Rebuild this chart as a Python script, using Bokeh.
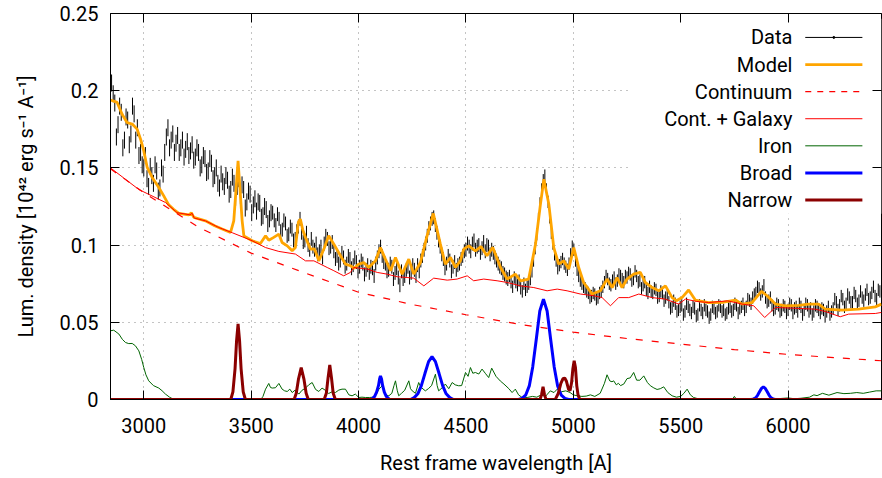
from bokeh.plotting import figure
from bokeh.models import Range1d, FixedTicker, LinearAxis
from bokeh.embed import file_html
from bokeh.resources import INLINE
from bokeh.core.properties import value

FONT = "Roboto"

# ---------------- data ----------------
X_TICKS = [3000, 3500, 4000, 4500, 5000, 5500, 6000]
Y_TICKS = [0, 0.05, 0.1, 0.15, 0.2, 0.25]
Y_TICK_LABELS = ["0", "0.05", "0.1", "0.15", "0.2", "0.25"]
X_TITLE = "Rest frame wavelength [A]"
Y_TITLE = "Lum. density [10\u2074\u00b2 erg s\u207b\u00b9 A\u207b\u00b9]"
LEGEND_LABELS = ["Data", "Model", "Continuum", "Cont. + Galaxy", "Iron", "Broad", "Narrow"]

# observed spectrum: value every 15 A from 2850 A (rows of 10 = 150 A)
DATA_WL_START = 2850
DATA_WL_STEP = 15
DATA_FLUX = [
    0.205, 0.192, 0.178, 0.186, 0.168, 0.181, 0.172, 0.185, 0.176, 0.160,
    0.150, 0.143, 0.151, 0.140, 0.148, 0.137, 0.146, 0.170, 0.163, 0.172,
    0.166, 0.160, 0.168, 0.162, 0.158, 0.165, 0.157, 0.160, 0.152, 0.156,
    0.148, 0.153, 0.145, 0.140, 0.146, 0.138, 0.142, 0.136, 0.140, 0.138,
    0.132, 0.136, 0.128, 0.133, 0.126, 0.122, 0.127, 0.119, 0.123, 0.117,
    0.121, 0.113, 0.117, 0.110, 0.114, 0.107, 0.110, 0.104, 0.112, 0.108,
    0.103, 0.100, 0.104, 0.097, 0.094, 0.099, 0.101, 0.104, 0.099, 0.096,
    0.093, 0.090, 0.092, 0.088, 0.091, 0.087, 0.089, 0.086, 0.088, 0.084,
    0.082, 0.085, 0.088, 0.096, 0.093, 0.088, 0.084, 0.086, 0.082, 0.079,
    0.083, 0.080, 0.086, 0.082, 0.084, 0.087, 0.090, 0.097, 0.106, 0.114,
    0.118, 0.108, 0.099, 0.091, 0.088, 0.090, 0.086, 0.084, 0.088, 0.093,
    0.097, 0.099, 0.101, 0.097, 0.100, 0.098, 0.096, 0.099, 0.097, 0.092,
    0.088, 0.085, 0.081, 0.078, 0.076, 0.079, 0.074, 0.072, 0.075, 0.073,
    0.078, 0.090, 0.107, 0.127, 0.142, 0.136, 0.118, 0.101, 0.090, 0.087,
    0.091, 0.086, 0.088, 0.099, 0.090, 0.080, 0.075, 0.072, 0.069, 0.067,
    0.068, 0.066, 0.070, 0.076, 0.078, 0.074, 0.079, 0.077, 0.080, 0.076,
    0.079, 0.081, 0.078, 0.080, 0.077, 0.074, 0.071, 0.073, 0.069, 0.071,
    0.067, 0.069, 0.066, 0.063, 0.060, 0.062, 0.058, 0.061, 0.057, 0.060,
    0.056, 0.059, 0.055, 0.058, 0.061, 0.057, 0.055, 0.059, 0.057, 0.060,
    0.058, 0.056, 0.060, 0.058, 0.061, 0.059, 0.062, 0.060, 0.064, 0.066,
    0.069, 0.072, 0.070, 0.066, 0.064, 0.061, 0.059, 0.061, 0.058, 0.060,
    0.058, 0.061, 0.059, 0.057, 0.060, 0.058, 0.061, 0.059, 0.057, 0.060,
    0.056, 0.058, 0.057, 0.055, 0.059, 0.063, 0.061, 0.065, 0.062, 0.066,
    0.063, 0.067, 0.064, 0.066, 0.068, 0.065, 0.069, 0.067, 0.071, 0.068,
]
# the in-between samples, every 15 A from 2857.5 A
DATA_MID_WL_START = 2857.5
DATA_FLUX_MID = [
    0.198, 0.170, 0.190, 0.163, 0.183, 0.165, 0.190, 0.168, 0.158, 0.152,
    0.158, 0.138, 0.145, 0.152, 0.135, 0.150, 0.160, 0.176, 0.168, 0.160,
    0.171, 0.163, 0.157, 0.167, 0.161, 0.155, 0.163, 0.150, 0.158, 0.147,
    0.156, 0.143, 0.150, 0.137, 0.141, 0.145, 0.133, 0.144, 0.131, 0.143,
    0.139, 0.124, 0.135, 0.121, 0.130, 0.128, 0.118, 0.125, 0.114, 0.121,
    0.116, 0.120, 0.109, 0.116, 0.106, 0.112, 0.103, 0.109, 0.117, 0.102,
    0.108, 0.097, 0.099, 0.101, 0.096, 0.092, 0.106, 0.098, 0.102, 0.091,
    0.088, 0.095, 0.086, 0.093, 0.085, 0.092, 0.083, 0.090, 0.081, 0.087,
    0.086, 0.080, 0.092, 0.099, 0.089, 0.083, 0.088, 0.078, 0.085, 0.074,
    0.078, 0.084, 0.079, 0.087, 0.080, 0.083, 0.093, 0.101, 0.111, 0.117,
    0.113, 0.103, 0.094, 0.085, 0.093, 0.083, 0.089, 0.087, 0.091, 0.096,
    0.101, 0.096, 0.103, 0.099, 0.095, 0.102, 0.100, 0.094, 0.095, 0.090,
    0.086, 0.082, 0.079, 0.080, 0.073, 0.076, 0.077, 0.070, 0.071, 0.075,
    0.083, 0.098, 0.117, 0.136, 0.145, 0.128, 0.108, 0.094, 0.085, 0.089,
    0.088, 0.084, 0.094, 0.097, 0.084, 0.077, 0.073, 0.070, 0.066, 0.069,
    0.065, 0.069, 0.073, 0.080, 0.075, 0.077, 0.075, 0.081, 0.078, 0.080,
    0.082, 0.077, 0.083, 0.076, 0.072, 0.076, 0.069, 0.070, 0.072, 0.066,
    0.070, 0.064, 0.068, 0.059, 0.064, 0.057, 0.060, 0.055, 0.062, 0.058,
    0.060, 0.054, 0.061, 0.056, 0.058, 0.053, 0.060, 0.056, 0.061, 0.057,
    0.055, 0.059, 0.057, 0.062, 0.056, 0.060, 0.058, 0.065, 0.062, 0.068,
    0.073, 0.068, 0.074, 0.063, 0.066, 0.058, 0.062, 0.057, 0.061, 0.056,
    0.062, 0.056, 0.060, 0.062, 0.055, 0.062, 0.057, 0.055, 0.061, 0.058,
    0.059, 0.054, 0.060, 0.057, 0.065, 0.058, 0.067, 0.060, 0.068, 0.063,
    0.069, 0.062, 0.070, 0.064, 0.071, 0.066, 0.073, 0.065, 0.070, 0.066,
]
# error bar half-size per wavelength band
ERR_EDGES = [3600, 4700]
ERR_VALUES = [0.0055, 0.0045, 0.004]

MODEL = [
    (2845, 0.194), (2876, 0.1924), (2899, 0.1848), (2922, 0.1794), (2946, 0.1784),
    (2969, 0.1751), (2985, 0.1686), (3000, 0.161), (3016, 0.1503), (3039, 0.1438),
    (3070, 0.1373), (3093, 0.1319), (3116, 0.1261), (3140, 0.123), (3163, 0.1205),
    (3209, 0.1196), (3222, 0.1208), (3233, 0.1179), (3287, 0.1157), (3330, 0.1125),
    (3365, 0.1104), (3404, 0.1082), (3419, 0.1157), (3439, 0.1546), (3458, 0.1157),
    (3466, 0.106), (3505, 0.1028), (3543, 0.101), (3567, 0.106), (3582, 0.1032),
    (3605, 0.105), (3629, 0.1071), (3644, 0.1017), (3668, 0.0995), (3691, 0.0963),
    (3706, 0.0985), (3720, 0.115), (3729, 0.1168), (3740, 0.110), (3753, 0.1049),
    (3776, 0.0974), (3795, 0.0975), (3815, 0.0898), (3840, 0.098), (3861, 0.106),
    (3885, 0.1006), (3916, 0.0931), (3939, 0.0877), (3962, 0.0866), (3980, 0.085),
    (4001, 0.0877), (4024, 0.0887), (4047, 0.0855), (4079, 0.0898), (4102, 0.0984),
    (4125, 0.0909), (4149, 0.0834), (4172, 0.092), (4203, 0.0812), (4234, 0.0909),
    (4257, 0.0812), (4288, 0.0887), (4319, 0.106), (4348, 0.1205), (4381, 0.1006),
    (4404, 0.0877), (4428, 0.092), (4451, 0.0855), (4474, 0.0898), (4490, 0.0974),
    (4513, 0.0995), (4544, 0.0963), (4570, 0.099), (4598, 0.0931), (4625, 0.0985),
    (4661, 0.0855), (4692, 0.078), (4730, 0.0812), (4754, 0.0769), (4792, 0.078),
    (4824, 0.1006), (4847, 0.1265), (4863, 0.1427), (4886, 0.1265), (4909, 0.0984),
    (4932, 0.0877), (4955, 0.0898), (4979, 0.0845), (5002, 0.0984), (5025, 0.0855),
    (5048, 0.0758), (5088, 0.0683), (5126, 0.0704), (5157, 0.078), (5181, 0.0725),
    (5204, 0.079), (5227, 0.0725), (5250, 0.078), (5281, 0.0812), (5312, 0.0823),
    (5335, 0.0758), (5367, 0.0725), (5398, 0.0704), (5429, 0.0736), (5460, 0.066),
    (5480, 0.064), (5506, 0.066), (5537, 0.0709), (5568, 0.0644), (5630, 0.0628),
    (5700, 0.063), (5755, 0.0644), (5786, 0.0618), (5832, 0.0628), (5876, 0.07),
    (5902, 0.0672), (5941, 0.0618), (5988, 0.0607), (6050, 0.061), (6096, 0.0618),
    (6142, 0.0618), (6173, 0.0585), (6251, 0.0579), (6328, 0.0585), (6406, 0.06),
    (6435, 0.0618),
]

CONTINUUM = [
    (2845, 0.1494), (3000, 0.134), (3250, 0.112), (3500, 0.0948), (3750, 0.082),
    (4000, 0.0695), (4250, 0.0615), (4500, 0.0549), (4750, 0.0487), (5000, 0.0436),
    (5250, 0.0395), (5500, 0.0359), (5750, 0.0323), (6000, 0.0292), (6250, 0.0268),
    (6435, 0.0251),
]

CONT_GALAXY = [
    (2845, 0.150), (2977, 0.136), (3101, 0.1276), (3155, 0.121), (3215, 0.1196),
    (3225, 0.1206), (3235, 0.1175), (3287, 0.1157), (3349, 0.1114), (3412, 0.108),
    (3505, 0.1028), (3567, 0.0984), (3629, 0.0959), (3706, 0.0942), (3753, 0.0898),
    (3792, 0.0898), (3854, 0.0855), (3885, 0.0834), (3931, 0.0801), (3962, 0.0823),
    (3978, 0.0855), (4040, 0.0845), (4087, 0.0823), (4133, 0.0812), (4180, 0.0795),
    (4226, 0.079), (4257, 0.0786), (4304, 0.0736), (4350, 0.0786), (4413, 0.0773),
    (4459, 0.078), (4506, 0.0801), (4536, 0.0769), (4583, 0.078), (4645, 0.0769),
    (4692, 0.0758), (4754, 0.0736), (4816, 0.0725), (4878, 0.0704), (4925, 0.0715),
    (4971, 0.0704), (5033, 0.0683), (5095, 0.0672), (5134, 0.066), (5173, 0.0607),
    (5211, 0.066), (5258, 0.066), (5305, 0.0683), (5367, 0.066), (5429, 0.065),
    (5491, 0.0618), (5522, 0.065), (5575, 0.0635), (5630, 0.0628), (5718, 0.0639),
    (5786, 0.0618), (5840, 0.0607), (5891, 0.0531), (5941, 0.0596), (6018, 0.0592),
    (6127, 0.0585), (6173, 0.057), (6243, 0.0536), (6282, 0.0553), (6406, 0.0557),
    (6435, 0.0564),
]

IRON = [
    (2845, 0.0445), (2860, 0.0449), (2884, 0.0424), (2900, 0.039), (2915, 0.0369),
    (2930, 0.0362), (2946, 0.0363), (2961, 0.0348), (2977, 0.0315), (2990, 0.026),
    (3000, 0.0207), (3010, 0.016), (3023, 0.0121), (3045, 0.009), (3070, 0.0074),
    (3085, 0.0057), (3101, 0.0035), (3120, 0.0015), (3132, 0.0006), (3145, 0.0),
    (3545, 0.0), (3555, 0.002), (3567, 0.0067), (3582, 0.0104), (3590, 0.0078),
    (3598, 0.0074), (3613, 0.0076), (3629, 0.0104), (3644, 0.0067), (3656, 0.0056),
    (3668, 0.0052), (3680, 0.0067), (3691, 0.0045), (3705, 0.0061), (3722, 0.0035),
    (3737, 0.006), (3753, 0.0074), (3768, 0.0095), (3784, 0.011), (3800, 0.0065),
    (3815, 0.0052), (3830, 0.0074), (3845, 0.006), (3861, 0.0039), (3877, 0.005),
    (3892, 0.0045), (3908, 0.0061), (3923, 0.0067), (3939, 0.0067), (3955, 0.003),
    (3970, 0.0024), (3985, 0.0035), (4001, 0.0013), (4016, 0.0015), (4032, 0.0013),
    (4050, 0.0013), (4071, 0.0015), (4085, 0.004), (4095, 0.0067), (4110, 0.0089),
    (4125, 0.003), (4141, 0.0024), (4155, 0.004), (4165, 0.009), (4172, 0.0121),
    (4180, 0.006), (4187, 0.0024), (4200, 0.004), (4215, 0.006), (4234, 0.0121),
    (4242, 0.007), (4250, 0.0056), (4265, 0.004), (4280, 0.011), (4290, 0.008),
    (4311, 0.0056), (4325, 0.007), (4340, 0.009), (4358, 0.0164), (4366, 0.009),
    (4373, 0.0056), (4390, 0.0077), (4404, 0.01), (4420, 0.007), (4436, 0.011),
    (4450, 0.0095), (4466, 0.0089), (4480, 0.009), (4498, 0.0175), (4510, 0.015),
    (4521, 0.0207), (4532, 0.017), (4544, 0.0175), (4560, 0.0165), (4575, 0.0197),
    (4590, 0.017), (4606, 0.0142), (4620, 0.0203), (4640, 0.015), (4660, 0.012),
    (4677, 0.010), (4700, 0.007), (4715, 0.0045), (4730, 0.0067), (4745, 0.003),
    (4760, 0.0015), (4785, 0.0013), (4810, 0.002), (4830, 0.0015), (4850, 0.003),
    (4870, 0.002), (4893, 0.0056), (4910, 0.0045), (4925, 0.0067), (4945, 0.005),
    (4965, 0.0056), (4985, 0.0045), (5000, 0.003), (5018, 0.0024), (5040, 0.002),
    (5060, 0.0022), (5080, 0.003), (5100, 0.002), (5125, 0.004), (5145, 0.0105),
    (5157, 0.016), (5170, 0.012), (5180, 0.0115), (5188, 0.0121), (5200, 0.0095),
    (5210, 0.0105), (5220, 0.009), (5235, 0.01), (5250, 0.0135), (5265, 0.014),
    (5281, 0.0175), (5295, 0.0125), (5310, 0.0125), (5328, 0.0153), (5345, 0.011),
    (5359, 0.0089), (5375, 0.0075), (5390, 0.0065), (5405, 0.007), (5421, 0.0082),
    (5440, 0.0045), (5460, 0.0024), (5480, 0.0015), (5500, 0.002), (5515, 0.004),
    (5530, 0.0067), (5545, 0.003), (5560, 0.0013), (5580, 0.0005), (5600, 0.0),
    (5740, 0.0), (5750, 0.002), (5760, 0.0), (5900, 0.0), (5950, 0.0005),
    (6000, 0.001), (6030, 0.0005), (6060, 0.0008), (6100, 0.0015), (6120, 0.003),
    (6135, 0.0025), (6160, 0.004), (6190, 0.0028), (6228, 0.0045), (6260, 0.0038),
    (6290, 0.004), (6320, 0.0045), (6350, 0.004), (6380, 0.0048), (6410, 0.0056),
    (6435, 0.0056),
]

BROAD = [
    (2845, 0.0), (4060, 0.0), (4075, 0.002), (4084, 0.0048), (4093, 0.0091),
    (4098, 0.0133), (4102, 0.0153), (4107, 0.0133), (4112, 0.0091), (4120, 0.0048),
    (4129, 0.002), (4145, 0.0),
    (4242, 0.0), (4259, 0.0012), (4276, 0.0037), (4292, 0.0088), (4309, 0.0168),
    (4326, 0.0245), (4342, 0.0277), (4358, 0.0245), (4375, 0.0168), (4392, 0.0088),
    (4408, 0.0037), (4425, 0.0012), (4442, 0.0),
    (4745, 0.0), (4761, 0.0007), (4778, 0.0028), (4795, 0.0088), (4811, 0.0211),
    (4828, 0.0395), (4844, 0.0573), (4861, 0.065), (4878, 0.0573), (4894, 0.0395),
    (4911, 0.0211), (4927, 0.0088), (4944, 0.0028), (4961, 0.0007), (4978, 0.0),
    (5830, 0.0), (5840, 0.0004), (5849, 0.0011), (5858, 0.0027), (5867, 0.005),
    (5876, 0.0072), (5885, 0.0082), (5894, 0.0072), (5903, 0.005), (5912, 0.0027),
    (5921, 0.0011), (5930, 0.0004), (5940, 0.0), (6435, 0.0),
]

NARROW = [
    (2845, 0.0), (3405, 0.0), (3415, 0.005), (3425, 0.02), (3432, 0.038),
    (3439, 0.049), (3446, 0.038), (3453, 0.02), (3463, 0.005), (3473, 0.0),
    (3700, 0.0), (3710, 0.004), (3720, 0.013), (3733, 0.0207), (3746, 0.013),
    (3756, 0.004), (3766, 0.0),
    (3840, 0.0), (3850, 0.004), (3858, 0.014), (3866, 0.0223), (3874, 0.014),
    (3882, 0.004), (3892, 0.0),
    (4845, 0.0), (4852, 0.003), (4859, 0.0082), (4866, 0.003), (4873, 0.0),
    (4916, 0.0), (4930, 0.004), (4942, 0.0105), (4952, 0.0135), (4960, 0.0139),
    (4968, 0.0118), (4978, 0.0065), (4985, 0.0058), (4992, 0.011), (4998, 0.02),
    (5004, 0.0251), (5010, 0.0207), (5016, 0.009), (5022, 0.003), (5030, 0.0),
    (6435, 0.0),
]

# ---------------- layout / style constants ----------------
X_MIN, X_MAX = 2845, 6435
Y_MIN, Y_MAX = 0, 0.25
FS = "20px"
LEG_TEXT_X = 6020
LEG_X0, LEG_X1 = 6080, 6346
LEG_Y0, LEG_DY = 0.2345, 0.01755
LEG_BOX = (5266, 6435, 0.1203, 0.2466)  # left, right, bottom, top


def unzip(pairs):
    return [a for a, _ in pairs], [b for _, b in pairs]


def err_for(w):
    for edge, e in zip(ERR_EDGES, ERR_VALUES):
        if w < edge:
            return e
    return ERR_VALUES[-1]


data_wl = [DATA_WL_START + DATA_WL_STEP * i for i in range(len(DATA_FLUX))]
data_wl += [DATA_MID_WL_START + DATA_WL_STEP * i for i in range(len(DATA_FLUX_MID))]
data_f = DATA_FLUX + DATA_FLUX_MID
data_lo = [f - err_for(w) for w, f in zip(data_wl, data_f)]
data_hi = [f + err_for(w) for w, f in zip(data_wl, data_f)]

p = figure(width=882, height=478,
           x_range=Range1d(X_MIN, X_MAX), y_range=Range1d(Y_MIN, Y_MAX),
           output_backend="svg", toolbar_location=None,
           min_border_left=110, min_border_right=1,
           min_border_top=13, min_border_bottom=79,
           background_fill_color="white", border_fill_color="white")
p.outline_line_color = "black"
p.outline_line_width = 1


def style_axis(ax, ticks):
    ax.ticker = FixedTicker(ticks=ticks)
    ax.major_tick_in = 9
    ax.major_tick_out = 0
    ax.minor_tick_in = 0
    ax.minor_tick_out = 0
    ax.major_tick_line_color = "black"
    ax.axis_line_color = "black"
    ax.major_label_text_font = FONT
    ax.major_label_text_font_size = FS
    ax.major_label_text_color = "black"
    ax.axis_label_text_font = FONT
    ax.axis_label_text_font_size = FS
    ax.axis_label_text_font_style = "normal"
    ax.axis_label_text_color = "black"


style_axis(p.xaxis[0], X_TICKS)
style_axis(p.yaxis[0], Y_TICKS)
p.yaxis[0].major_label_overrides = dict(zip(Y_TICKS, Y_TICK_LABELS))
p.xaxis[0].axis_label = X_TITLE
p.yaxis[0].axis_label = Y_TITLE
p.xaxis[0].major_label_standoff = 18
p.xaxis[0].axis_label_standoff = 15
p.yaxis[0].major_label_standoff = 12
p.yaxis[0].axis_label_standoff = 19

# mirror ticks on top and right
top_ax = LinearAxis()
style_axis(top_ax, X_TICKS)
top_ax.major_label_overrides = {t: "" for t in X_TICKS}
top_ax.major_label_standoff = 0
top_ax.axis_line_color = None
p.add_layout(top_ax, "above")
right_ax = LinearAxis()
style_axis(right_ax, Y_TICKS)
right_ax.major_label_overrides = {t: "" for t in Y_TICKS}
right_ax.major_label_standoff = 0
right_ax.axis_line_color = None
p.add_layout(right_ax, "right")

p.xgrid.ticker = FixedTicker(ticks=X_TICKS)
p.ygrid.ticker = FixedTicker(ticks=Y_TICKS)
p.grid.grid_line_color = "#888888"
p.grid.grid_line_dash = "1 5"
p.grid.grid_line_width = 1

# legend background (hides grid like the reference key)
p.quad(left=[LEG_BOX[0]], right=[LEG_BOX[1]], bottom=[LEG_BOX[2]], top=[LEG_BOX[3]],
       fill_color="white", line_color=None)

# series
p.segment(x0=data_wl, y0=data_lo, x1=data_wl, y1=data_hi, line_color="black", line_width=1)
mx, my = unzip(MODEL)
p.line(mx, my, line_color="#FFA500", line_width=2.8)
cx, cy = unzip(CONTINUUM)
p.line(cx, cy, line_color="#FF0000", line_width=1.2, line_dash="7 9")
gx, gy = unzip(CONT_GALAXY)
p.line(gx, gy, line_color="#FF0000", line_width=1)
ix, iy = unzip(IRON)
p.line(ix, iy, line_color="#006400", line_width=1)
bx, by = unzip(BROAD)
p.line(bx, by, line_color="#0000FF", line_width=3)
nx, ny = unzip(NARROW)
p.line(nx, ny, line_color="#8B0000", line_width=3)

# legend (gnuplot style: right aligned text, sample on the right)
leg_y = [LEG_Y0 - i * LEG_DY for i in range(len(LEGEND_LABELS))]
p.text(x=[LEG_TEXT_X] * len(LEGEND_LABELS), y=leg_y, text=LEGEND_LABELS,
       text_align="right", text_baseline="middle",
       text_font=value(FONT), text_font_size=value(FS), text_color="black")
styles = [
    dict(line_color="black", line_width=1),
    dict(line_color="#FFA500", line_width=2.8),
    dict(line_color="#FF0000", line_width=1.2, line_dash="6 6"),
    dict(line_color="#FF0000", line_width=1),
    dict(line_color="#006400", line_width=1),
    dict(line_color="#0000FF", line_width=3),
    dict(line_color="#8B0000", line_width=3),
]
for yy, st in zip(leg_y, styles):
    p.line([LEG_X0, LEG_X1], [yy, yy], **st)
p.scatter([(LEG_X0 + LEG_X1) / 2], [leg_y[0]], size=2, color="black")

open("out.html", "w").write(file_html(p, INLINE))
